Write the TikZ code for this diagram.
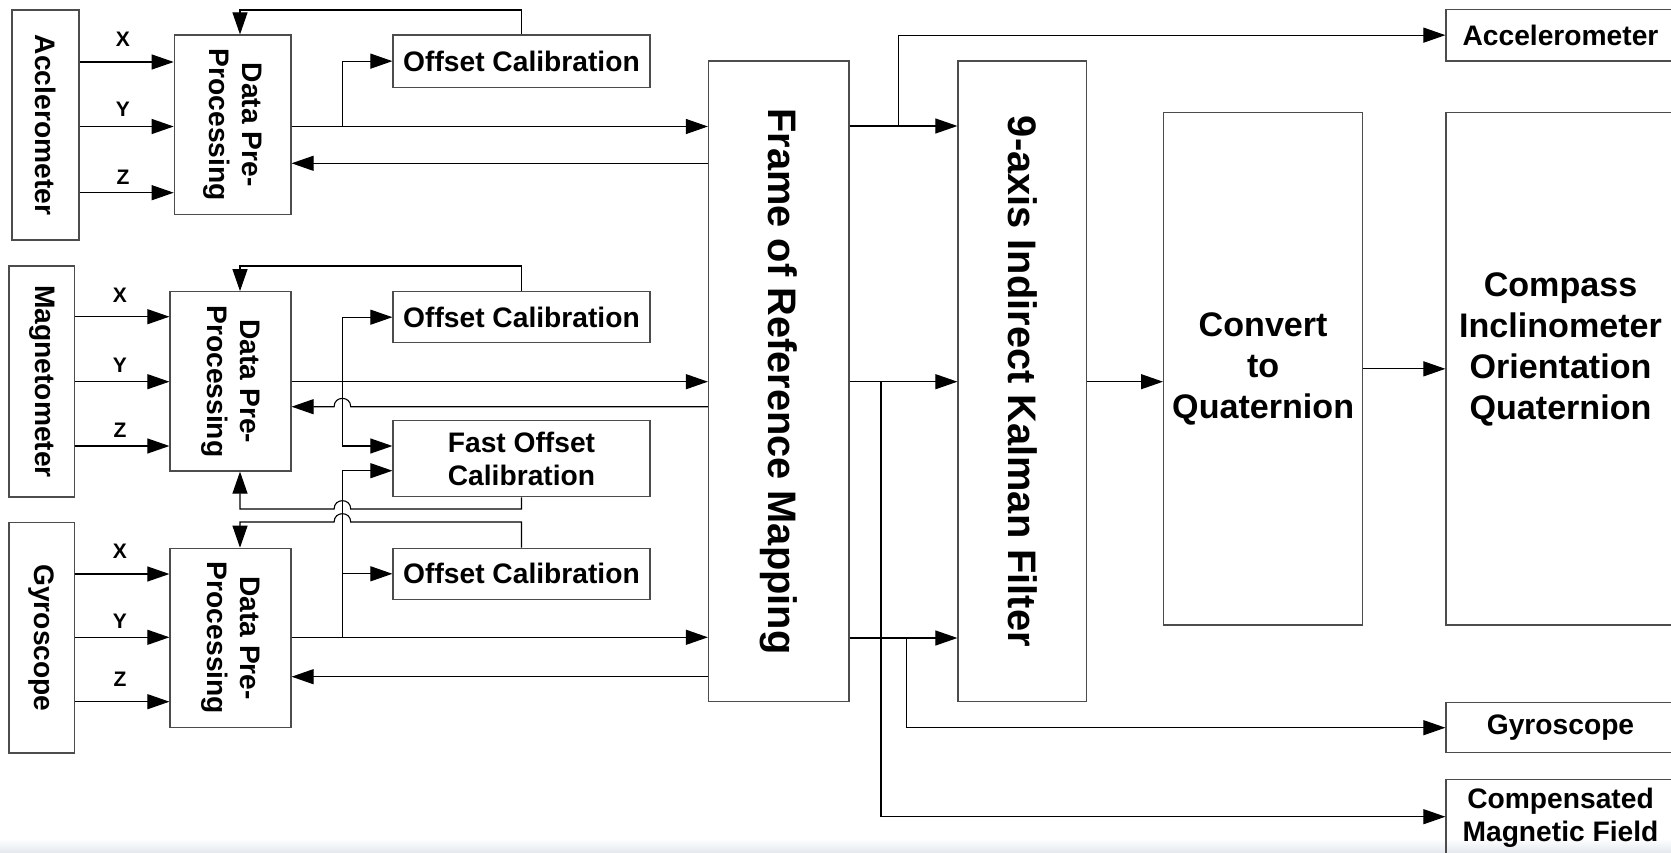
\documentclass[tikz,border=0pt]{standalone}
\usepackage{fontspec}
\setmainfont{Liberation Sans}
\usetikzlibrary{arrows.meta}
\newcommand\fnorm{\fontsize{28.2}{33.5}\selectfont\bfseries}
\newcommand\fbig{\fontsize{39.8}{46}\selectfont\bfseries}
\newcommand\fmed{\fontsize{34.1}{41}\selectfont\bfseries}
\newcommand\fsmall{\fontsize{21}{24}\selectfont\bfseries}
\begin{document}
\begin{tikzpicture}[x=1pt,y=-1pt,
  box/.style={draw=black!70, line width=1.2pt, inner sep=0pt},
  con/.style={black, line width=1.1pt},
  arr/.style={con, -{Triangle[length=22pt,width=15pt]}},
  lbl/.style={inner sep=0pt, align=center}]
\clip (0,0) rectangle (1671,853);
\shade[top color=white, bottom color={rgb,255:red,228;green,233;blue,238}] (0,838) rectangle (1671,853);

% sensor boxes
\node[box, minimum width=67pt, minimum height=230pt] (accS) at (45.5,125) {};
\node[lbl, rotate=-90, font=\fnorm] (accSt) at (accS.center) {Acclerometer};
\node[box, minimum width=65.5pt, minimum height=231pt] (magS) at (41.75,381.5) {};
\node[lbl, rotate=-90, font=\fnorm] (magSt) at (magS.center) {Magnetometer};
\node[box, minimum width=65.5pt, minimum height=230.3pt] (gyrS) at (41.75,637.85) {};
\node[lbl, rotate=-90, font=\fnorm] (gyrSt) at (gyrS.center) {Gyroscope};

% data pre-processing
\node[box, minimum width=116.7pt, minimum height=179.5pt] (dpp1) at (232.65,124.75) {};
\node[lbl, rotate=-90, font=\fnorm] (dpp1t) at (dpp1.center) {Data Pre-\\Processing};
\node[box, minimum width=121pt, minimum height=179.3pt] (dpp2) at (230.5,381.35) {};
\node[lbl, rotate=-90, font=\fnorm] (dpp2t) at (dpp2.center) {Data Pre-\\Processing};
\node[box, minimum width=121pt, minimum height=179.4pt] (dpp3) at (230.5,638) {};
\node[lbl, rotate=-90, font=\fnorm] (dpp3t) at (dpp3.center) {Data Pre-\\Processing};

% calibration boxes
\node[box, lbl, minimum width=257pt, minimum height=52.3pt, font=\fnorm] (oc1) at (521.5,61.15) {Offset Calibration};
\node[box, lbl, minimum width=257pt, minimum height=51pt, font=\fnorm] (oc2) at (521.5,317.2) {Offset Calibration};
\node[box, lbl, minimum width=257pt, minimum height=76pt, font=\fnorm] (foc) at (521.5,458.7) {Fast Offset\\Calibration};
\node[box, lbl, minimum width=257pt, minimum height=51pt, font=\fnorm] (oc3) at (521.5,573.8) {Offset Calibration};

% big blocks
\node[box, minimum width=140.5pt, minimum height=640.7pt] (form) at (778.75,381.35) {};
\node[lbl, rotate=-90, font=\fbig] (formt) at (form.center) {Frame of Reference Mapping};
\node[box, minimum width=128.5pt, minimum height=640.7pt] (kal) at (1022.25,381.35) {};
\node[lbl, rotate=-90, font=\fbig] (kalt) at (kal.center) {9-axis Indirect Kalman Filter};
\node[box, lbl, minimum width=199.1pt, minimum height=512.3pt, font=\fmed] (conv) at (1263.15,368.85) {Convert\\to\\Quaternion};
\node[box, minimum width=229pt, minimum height=512.3pt] (comp) at (1560.5,368.85) {};
\node[lbl, font=\fmed] (compt) at (1560.5,349) {Compass\\Inclinometer\\Orientation\\Quaternion};

% outputs
\node[box, lbl, minimum width=229pt, minimum height=51.7pt, font=\fnorm] (accO) at (1560.5,35.15) {Accelerometer};
\node[box, lbl, minimum width=229pt, minimum height=50pt, font=\fnorm] (gyrO) at (1560.5,727.7) {Gyroscope};
\node[box, lbl, minimum width=229pt, minimum height=76.6pt, font=\fnorm] (magO) at (1560.5,817.6) {Compensated\\Magnetic Field};

% axis inputs
\foreach \y in {62,126.5,192.7} \draw[arr] (accS.east |- 0,\y) -- (dpp1.west |- 0,\y);
\foreach \y in {316.7,381.7,446} \draw[arr] (magS.east |- 0,\y) -- (dpp2.west |- 0,\y);
\foreach \y in {574,637.3,701.7} \draw[arr] (gyrS.east |- 0,\y) -- (dpp3.west |- 0,\y);
\node[font=\fsmall, inner sep=0pt] (x1) at (123,39.5) {X};
\node[font=\fsmall, inner sep=0pt] (y1) at (123,109.5) {Y};
\node[font=\fsmall, inner sep=0pt] (z1) at (123,177) {Z};
\node[font=\fsmall, inner sep=0pt] (x2) at (120,295.5) {X};
\node[font=\fsmall, inner sep=0pt] (y2) at (120,365.5) {Y};
\node[font=\fsmall, inner sep=0pt] (z2) at (120,430.5) {Z};
\node[font=\fsmall, inner sep=0pt] (x3) at (120,551.5) {X};
\node[font=\fsmall, inner sep=0pt] (y3) at (120,621.5) {Y};
\node[font=\fsmall, inner sep=0pt] (z3) at (120,679) {Z};

% row 1
\coordinate (b1) at (342.4,126.5);
\draw[arr] (dpp1.east |- 0,126.5) -- (form.west |- 0,126.5);
\draw[arr] (form.west |- 0,163.3) -- (dpp1.east |- 0,163.3);
\draw[arr] (b1) |- (oc1.west);
\draw[arr] (oc1.north) |- (240,10) -- (dpp1.north -| 240,0);

% row 2
\coordinate (b2) at (342.4,381.7);
\draw[arr] (dpp2.east |- 0,381.7) -- (form.west |- 0,381.7);
\draw[arr] (form.west |- 0,406.7) -- (350.7,406.7) .. controls (350.7,395.6) and (334.1,395.6) .. (334.1,406.7) -- (dpp2.east |- 0,406.7);
\draw[arr] (b2) |- (oc2.west);
\draw[arr] (b2) |- (foc.west |- 0,446);
\draw[arr] (oc2.north) |- (240,266) -- (dpp2.north -| 240,0);
\draw[arr] (foc.south) |- (350.7,509) .. controls (350.7,497.9) and (334.1,497.9) .. (334.1,509) -| (dpp2.south -| 240,0);

% row 3
\coordinate (b3) at (342.4,637.3);
\draw[arr] (dpp3.east |- 0,637.3) -- (form.west |- 0,637.3);
\draw[arr] (form.west |- 0,676.7) -- (dpp3.east |- 0,676.7);
\draw[arr] (b3) |- (oc3.west);
\draw[arr] (b3) |- (foc.west |- 0,470.7);
\draw[arr] (oc3.north) |- (350.7,522) .. controls (350.7,510.9) and (334.1,510.9) .. (334.1,522) -| (dpp3.north -| 240,0);

% right side
\coordinate (r1) at (898.7,126);
\coordinate (r2) at (881,381.7);
\coordinate (r3) at (906.3,638);
\draw[arr] (form.east |- 0,126) -- (kal.west |- 0,126);
\draw[arr] (r1) |- (accO.west);
\draw[arr] (form.east |- 0,381.7) -- (kal.west |- 0,381.7);
\draw[arr] (r2) |- (magO.west |- 0,816.7);
\draw[arr] (form.east |- 0,638) -- (kal.west |- 0,638);
\draw[arr] (r3) |- (gyrO.west);
\draw[arr] (kal.east |- 0,381.7) -- (conv.west |- 0,381.7);
\draw[arr] (conv.east) -- (comp.west);
\end{tikzpicture}
\end{document}
